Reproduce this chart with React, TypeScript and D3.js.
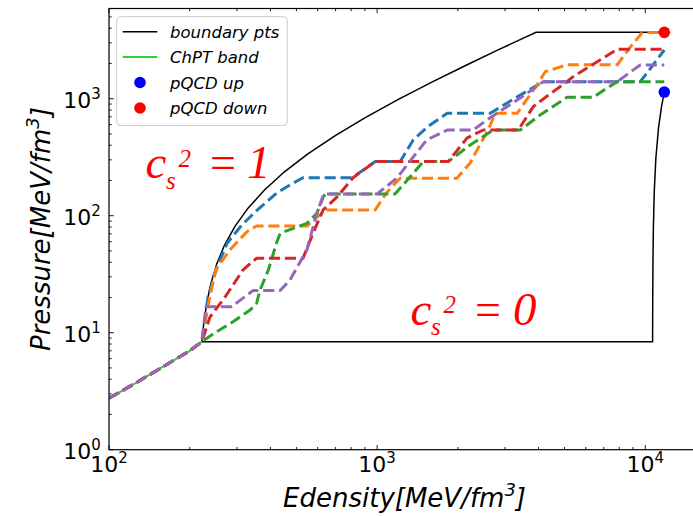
import React from 'react';
import * as d3 from 'd3';

// ---------- data (energy density E [MeV/fm^3], pressure P [MeV/fm^3]) ----------
const chptE = [100, 126, 158, 200, 222];
const chptP = [2.75, 3.72, 5.07, 7.0, 8.38];

const boundUpperE = [222, 226, 232, 240, 252, 270, 295, 330, 380, 450, 550, 700, 900, 1200, 1600, 2100, 2800, 3400, 3914, 11776];
const boundUpperP = [8.38, 12.4, 18.4, 26.4, 38.4, 56.4, 81, 116, 166, 236, 336, 486, 686, 986, 1386, 1886, 2586, 3186, 3700, 3700];
const boundLowerE = [222, 10650, 10660, 10680, 10720, 10800, 10950, 11200, 11500, 11776];
const boundLowerP = [8.38, 8.38, 18.4, 38, 78, 158, 308, 558, 858, 1140];

const blueE = [100, 126, 158, 200, 222, 234, 253, 276, 313, 356, 423, 486, 529, 807, 984, 1219, 1363, 1538, 1825, 2641, 3275, 4162, 9580, 10620, 11776];
const blueP = [2.75, 3.72, 5.07, 7.0, 8.38, 20.2, 36.5, 58.4, 83.3, 111, 157, 190, 211, 211, 290, 290, 444, 573, 750, 750, 1014, 1397, 1397, 1903, 2608];

const orangeE = [100, 126, 158, 200, 222, 235, 250, 282, 327, 355, 548, 597, 651, 984, 1089, 1219, 1983, 2223, 2360, 2596, 2754, 3327, 3990, 4236, 5105, 7863, 8710, 9745, 11776];
const orangeP = [2.75, 3.72, 5.07, 7.0, 8.38, 17.8, 34.4, 50.9, 73, 81.6, 81.6, 97.5, 112, 112, 159.5, 209, 209, 282, 365, 540, 750, 750, 1362, 1702, 1950, 1950, 2685, 3680, 3680];

const greenE = [100, 126, 158, 200, 222, 252, 290, 336, 355, 366, 393, 423, 435, 487, 547, 596, 630, 640, 1166, 1327, 1485, 1841, 2223, 2711, 3420, 4052, 5105, 6397, 7096, 7863, 11776];
const greenP = [2.75, 3.72, 5.07, 7.0, 8.38, 10.2, 12.4, 15.6, 17.8, 23.2, 34.4, 60, 70.7, 78, 86, 105, 145, 153, 153, 214, 290, 290, 402, 540, 540, 724, 1028, 1028, 1210, 1397, 1397];

const redE = [100, 126, 158, 200, 222, 238, 271, 316, 355, 529, 577, 629, 709, 813, 984, 1841, 2166, 2487, 3360, 3823, 4272, 5105, 5383, 7863, 11776];
const redP = [2.75, 3.72, 5.07, 7.0, 8.38, 13.6, 20.2, 34.4, 43.2, 43.2, 71.1, 112, 144.6, 211, 290, 290, 462, 540, 540, 855, 1040, 1397, 1542, 2643, 2643];

const purpleE = [100, 126, 158, 200, 222, 230, 287, 344, 435, 473, 547, 596, 630, 640, 997, 1184, 1366, 1531, 1825, 2282, 2565, 3420, 4162, 7863, 9023, 9580, 11776];
const purpleP = [2.75, 3.72, 5.07, 7.0, 8.38, 16.7, 16.7, 22.9, 22.9, 28.2, 50.9, 105, 150, 153, 153, 209, 319, 444, 540, 540, 658, 1014, 1397, 1397, 1762, 1941, 1941];

const pqcdUp = { E: 11776, P: 1140 };
const pqcdDown = { E: 11776, P: 3690 };

const xDomain = [100, 16000];
const yDomain = [1, 5900];
const xMajor = [100, 1000, 10000];
const yMajor = [1, 10, 100, 1000];

const legendLabels = ['boundary pts', 'ChPT band', 'pQCD up', 'pQCD down'];

const dashedSeries = [
  { name: 'blue', E: blueE, P: blueP, color: '#1f77b4' },
  { name: 'orange', E: orangeE, P: orangeP, color: '#ff7f0e' },
  { name: 'green', E: greenE, P: greenP, color: '#2ca02c' },
  { name: 'red', E: redE, P: redP, color: '#d62728' },
  { name: 'purple', E: purpleE, P: purpleP, color: '#9467bd' },
];

// ---------- layout ----------
const W = 693;
const H = 516;
const L = 109;
const R = 700;
const T = 8.5;
const B = 449.7;

export default function App() {
  const x = d3.scaleLog().domain(xDomain).range([L, R]);
  const y = d3.scaleLog().domain(yDomain).range([B, T]);
  const zip = (E: number[], P: number[]) => E.map((e, i) => [e, P[i]] as [number, number]);
  const line = d3
    .line<[number, number]>()
    .x((d) => x(d[0]))
    .y((d) => y(d[1]));

  const isMajor = (t: number) => Math.abs(Math.log10(t) - Math.round(Math.log10(t))) < 1e-9;
  const xTicks = x.ticks().filter((t) => t >= xDomain[0] && t <= xDomain[1]);
  const yTicks = y.ticks().filter((t) => t >= yDomain[0] && t <= yDomain[1]);

  const majLen = 4.7;
  const minLen = 2.7;
  const sans = "'DejaVu Sans', sans-serif";
  const serif = "'Liberation Serif', 'DejaVu Serif', serif";

  const legRows = [31.7, 57, 82.5, 108];

  return (
    <svg
      width={W}
      height={H}
      style={{ position: 'absolute', left: 0, top: 0, background: '#fff', overflow: 'hidden' }}
    >
      <rect x={0} y={0} width={W} height={H} fill="#fff" />
      <defs>
        <clipPath id="plotclip">
          <rect x={L} y={T} width={R - L} height={B - T} />
        </clipPath>
      </defs>

      <g clipPath="url(#plotclip)">
        <path d={line(zip(boundUpperE, boundUpperP)) || ''} fill="none" stroke="#000" strokeWidth={1.5} />
        <path d={line(zip(boundLowerE, boundLowerP)) || ''} fill="none" stroke="#000" strokeWidth={1.5} />
        <path d={line(zip(chptE, chptP)) || ''} fill="none" stroke="limegreen" strokeWidth={2} />
        {dashedSeries.map((s) => (
          <path
            key={s.name}
            d={line(zip(s.E, s.P)) || ''}
            fill="none"
            stroke={s.color}
            strokeWidth={3}
            strokeDasharray="11.1,4.8"
            strokeLinejoin="round"
          />
        ))}
        <circle cx={x(pqcdUp.E)} cy={y(pqcdUp.P)} r={5.8} fill="#0000ff" />
        <circle cx={x(pqcdDown.E)} cy={y(pqcdDown.P)} r={5.8} fill="#ff0000" />
      </g>

      {/* annotations */}
      <g fill="#ff0000" fontFamily={serif} fontStyle="italic">
        <text x={145.5} y={178.3} fontSize={47}>c</text>
        <text x={166} y={188.5} fontSize={25}>s</text>
        <text x={178.5} y={166.7} fontSize={25}>2</text>
        <text x={210} y={178.3} fontSize={46} fontStyle="normal">=</text>
        <text x={247} y={178.3} fontSize={47}>1</text>

        <text x={410.5} y={325} fontSize={47}>c</text>
        <text x={431} y={335.2} fontSize={25}>s</text>
        <text x={443.5} y={313.4} fontSize={25}>2</text>
        <text x={475} y={325} fontSize={46} fontStyle="normal">=</text>
        <text x={513} y={325} fontSize={47}>0</text>
      </g>

      {/* ticks */}
      <g stroke="#000" strokeWidth={0.9}>
        {xTicks.map((t) => {
          const len = isMajor(t) ? majLen : minLen;
          return (
            <g key={'xt' + t}>
              <line x1={x(t)} x2={x(t)} y1={B} y2={B - len} />
              <line x1={x(t)} x2={x(t)} y1={T} y2={T + len} />
            </g>
          );
        })}
        {yTicks.map((t) => {
          const len = isMajor(t) ? majLen : minLen;
          return (
            <g key={'yt' + t}>
              <line x1={L} x2={L + len} y1={y(t)} y2={y(t)} />
              <line x1={R} x2={R - len} y1={y(t)} y2={y(t)} />
            </g>
          );
        })}
      </g>

      {/* spines */}
      <rect x={L} y={T} width={R - L} height={B - T} fill="none" stroke="#000" strokeWidth={1.2} />

      {/* tick labels */}
      <g fontFamily={sans} fill="#000">
        {xMajor.map((t) => (
          <text key={'xl' + t} x={x(t)} y={471.7} fontSize={22} textAnchor="middle">
            10
            <tspan fontSize={15} dy={-9}>{Math.round(Math.log10(t))}</tspan>
          </text>
        ))}
        {yMajor.map((t) => (
          <text key={'yl' + t} x={100.7} y={y(t) + 9} fontSize={22} textAnchor="end">
            10
            <tspan fontSize={15} dy={-9}>{Math.round(Math.log10(t))}</tspan>
          </text>
        ))}
      </g>

      {/* axis labels */}
      <text x={(L + R) / 2} y={507} fontFamily={sans} fontStyle="italic" fontSize={26} textAnchor="middle">
        Edensity[MeV/fm
        <tspan fontSize={18} dy={-11}>3</tspan>
        <tspan dy={11}>]</tspan>
      </text>
      <text
        transform={`translate(50, ${(T + B) / 2}) rotate(-90)`}
        fontFamily={sans}
        fontStyle="italic"
        fontSize={26}
        textAnchor="middle"
      >
        Pressure[MeV/fm
        <tspan fontSize={18} dy={-11}>3</tspan>
        <tspan dy={11}>]</tspan>
      </text>

      {/* legend */}
      <g>
        <rect x={116.7} y={16.7} width={170.6} height={108.8} rx={4} fill="#fff" fillOpacity={0.8} stroke="#cccccc" strokeWidth={1} />
        <line x1={122.7} x2={157.3} y1={legRows[0]} y2={legRows[0]} stroke="#000" strokeWidth={1.5} />
        <line x1={122.7} x2={157.3} y1={legRows[1]} y2={legRows[1]} stroke="limegreen" strokeWidth={2} />
        <circle cx={140} cy={legRows[2]} r={5.8} fill="#0000ff" />
        <circle cx={140} cy={legRows[3]} r={5.8} fill="#ff0000" />
        {legendLabels.map((lab, i) => (
          <text key={lab} x={170} y={legRows[i] + 6} fontFamily={sans} fontStyle="italic" fontSize={16.5} fill="#000">
            {lab}
          </text>
        ))}
      </g>
    </svg>
  );
}
